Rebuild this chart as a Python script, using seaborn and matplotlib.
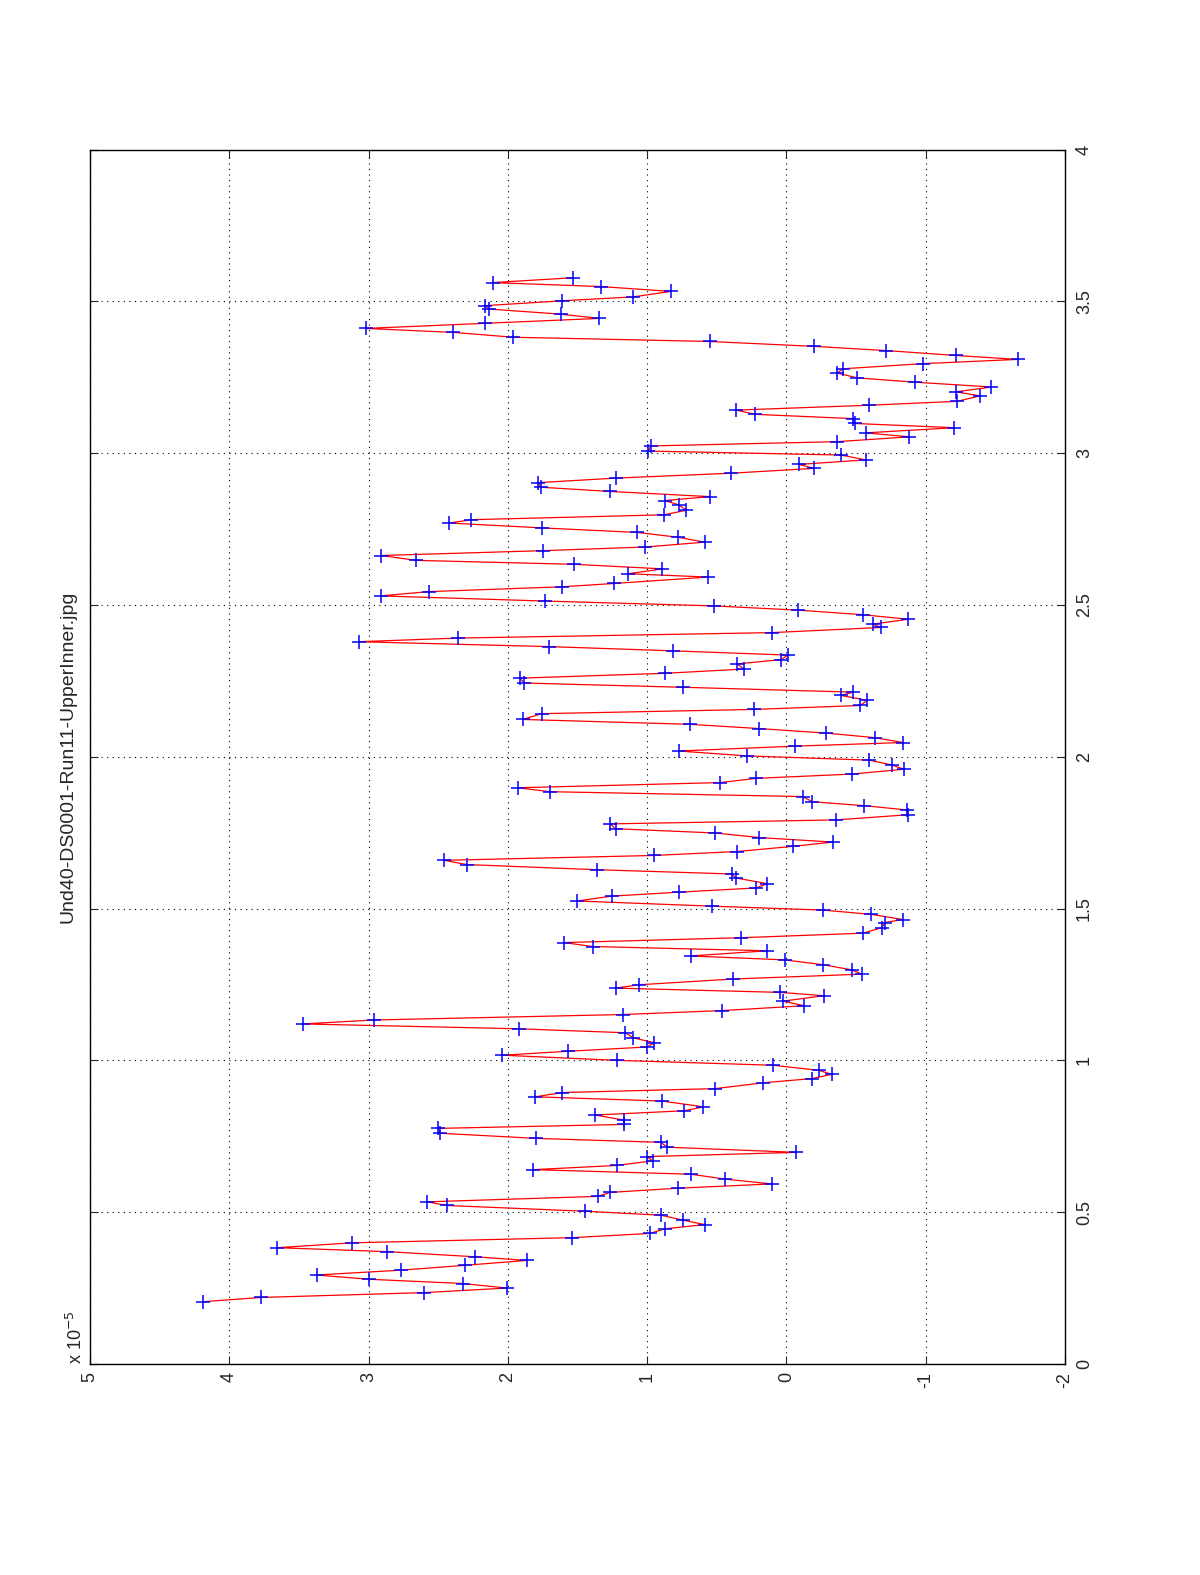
import matplotlib
matplotlib.use('Agg')
import matplotlib.pyplot as plt
import seaborn as sns

title = 'Und40-DS0001-Run11-UpperInner.jpg'
x_pos = [3.578, 3.562, 3.549, 3.533, 3.515, 3.502, 3.486, 3.475, 3.458, 3.444,
         3.428, 3.411, 3.398, 3.382, 3.368, 3.352, 3.338, 3.322, 3.309, 3.295,
         3.278, 3.264, 3.248, 3.234, 3.218, 3.202, 3.189, 3.171, 3.158, 3.142,
         3.128, 3.114, 3.098, 3.084, 3.067, 3.054, 3.038, 3.024, 3.007, 2.994,
         2.978, 2.963, 2.950,
         2.934, 2.918, 2.903, 2.888, 2.874, 2.857, 2.844, 2.830, 2.812, 2.797,
         2.781, 2.770, 2.754, 2.739, 2.723, 2.707, 2.691, 2.679, 2.663, 2.647,
         2.634, 2.619, 2.603, 2.592,
         2.571, 2.560, 2.544, 2.530, 2.513, 2.497, 2.483, 2.468, 2.453, 2.437,
         2.426, 2.409, 2.391, 2.379, 2.363, 2.349, 2.335, 2.320, 2.306, 2.289,
         2.275, 2.259,
         2.243, 2.229, 2.213, 2.202, 2.186, 2.169, 2.156, 2.142, 2.123, 2.107,
         2.093, 2.078, 2.063, 2.047, 2.035, 2.019, 2.003, 1.989, 1.973, 1.959,
         1.943, 1.929, 1.915,
         1.898, 1.885, 1.869, 1.852, 1.839, 1.825, 1.809, 1.792, 1.779, 1.763,
         1.749, 1.734, 1.719, 1.705, 1.688, 1.675, 1.659, 1.645, 1.628, 1.614,
         1.601, 1.582, 1.568,
         1.554, 1.541, 1.525, 1.508, 1.495, 1.481, 1.464, 1.454, 1.437, 1.419,
         1.404, 1.388, 1.375, 1.361, 1.344, 1.331, 1.315, 1.298, 1.284, 1.268,
         1.249, 1.238, 1.224, 1.213,
         1.195, 1.180, 1.164, 1.151, 1.133, 1.120, 1.104, 1.091, 1.074, 1.058,
         1.044, 1.030, 1.017, 1.000, 0.984, 0.967, 0.954, 0.940, 0.926, 0.907,
         0.894, 0.880,
         0.866, 0.847, 0.834, 0.820, 0.803, 0.789, 0.776, 0.760, 0.743, 0.730,
         0.714, 0.697, 0.683, 0.669, 0.654, 0.640, 0.625, 0.609, 0.593, 0.579,
         0.565, 0.552,
         0.534, 0.522, 0.503, 0.490, 0.474, 0.459, 0.445, 0.430, 0.416, 0.399,
         0.383, 0.370, 0.353, 0.341, 0.325, 0.309, 0.293, 0.279, 0.265, 0.250,
         0.235, 0.219, 0.205]
y_val = [1.529, 2.110, 1.333, 0.831, 1.098, 1.608, 2.165, 2.137, 1.620, 1.345,
         2.165, 3.020, 2.392, 1.961, 0.549, -0.196, -0.718, -1.216, -1.659, -0.980,
         -0.404, -0.365, -0.510, -0.922, -1.471, -1.216, -1.392, -1.227, -0.596, 0.361,
         0.224, -0.478, -0.490, -1.204, -0.569, -0.882, -0.365, 0.973, 0.992, -0.392,
         -0.569, -0.090, -0.196,
         0.400, 1.224, 1.784, 1.765, 1.267, 0.549, 0.875, 0.773, 0.718, 0.882,
         2.263, 2.420, 1.757, 1.071, 0.776, 0.588, 1.012, 1.745, 2.910, 2.659,
         1.522, 0.890, 1.137, 0.561,
         1.235, 1.608, 2.569, 2.914, 1.733, 0.522, -0.086, -0.549, -0.875, -0.620,
         -0.678, 0.106, 2.361, 3.071, 1.706, 0.816, -0.012, 0.039, 0.353, 0.306,
         0.871, 1.914,
         1.882, 0.745, -0.478, -0.392, -0.580, -0.529, 0.235, 1.757, 1.894, 0.694,
         0.196, -0.286, -0.635, -0.835, -0.059, 0.773, 0.286, -0.596, -0.757, -0.843,
         -0.471, 0.216, 0.478,
         1.929, 1.698, -0.118, -0.184, -0.557, -0.863, -0.871, -0.353, 1.267, 1.227,
         0.510, 0.196, -0.333, -0.047, 0.353, 0.949, 2.459, 2.294, 1.361, 0.392,
         0.365, 0.137, 0.216,
         0.773, 1.255, 1.502, 0.537, -0.263, -0.608, -0.835, -0.706, -0.686, -0.549,
         0.325, 1.596, 1.392, 0.137, 0.686, 0.012, -0.263, -0.471, -0.541, 0.380,
         1.059, 1.227, 0.047, -0.267,
         0.027, -0.129, 0.459, 1.176, 2.961, 3.471, 1.922, 1.157, 1.098, 0.949,
         1.000, 1.569, 2.039, 1.216, 0.098, -0.235, -0.325, -0.184, 0.169, 0.510,
         1.608, 1.804,
         0.894, 0.596, 0.733, 1.373, 1.165, 1.165, 2.498, 2.490, 1.796, 0.902,
         0.855, -0.071, 1.000, 0.961, 1.216, 1.816, 0.686, 0.443, 0.106, 0.776,
         1.267, 1.353,
         2.580, 2.439, 1.443, 0.902, 0.745, 0.588, 0.875, 0.980, 1.537, 3.118,
         3.655, 2.871, 2.235, 1.863, 2.306, 2.765, 3.373, 3.000, 2.325, 2.008,
         2.600, 3.773, 4.188]
val_ticks = [-2, -1, 0, 1, 2, 3, 4, 5]
pos_ticks = [0, 0.5, 1, 1.5, 2, 2.5, 3, 3.5, 4]
pos_labels = ['0', '0.5', '1', '1.5', '2', '2.5', '3', '3.5', '4']

sns.set_style('white')
plt.rcParams['font.family'] = ['Liberation Sans', 'DejaVu Sans']
plt.rcParams['axes.unicode_minus'] = False

fig = plt.figure(figsize=(12, 15.75), dpi=100)
ax = fig.add_axes([0.075, 0.134, 0.8125, 0.771])

# page is turned 90 degrees: values run right-to-left, positions upward
sns.lineplot(x=y_val, y=x_pos, sort=False, estimator=None, ax=ax,
             color='red', linewidth=0.9, marker='+', markersize=10,
             markeredgecolor='blue', markeredgewidth=1.1)

ax.set_xlim(5, -2)
ax.set_ylim(0, 4)
ax.set_xticks(val_ticks)
ax.set_xticklabels([str(v) for v in val_ticks], rotation=90, fontsize=13)
ax.set_yticks(pos_ticks)
ax.set_yticklabels(pos_labels, rotation=90, fontsize=13, va='center')
ax.tick_params(axis='y', left=True, right=True, labelleft=False, labelright=True,
               direction='in', length=6, pad=8)
ax.tick_params(axis='x', bottom=True, top=True, direction='in', length=6, pad=6)
ax.grid(True, linestyle=(0, (1, 4)), color='black', linewidth=0.8)
ax.set_xlabel('')
ax.set_ylabel('')
for s in ax.spines.values():
    s.set_color('black')
    s.set_linewidth(1.0)

ax.text(-0.023, 0.5, title, transform=ax.transAxes, rotation=90,
        ha='center', va='center', fontsize=14)
ax.text(-0.004, 0.0, r'x 10$^{-5}$', transform=ax.transAxes, rotation=90,
        ha='right', va='bottom', fontsize=13)

fig.savefig('out.png', dpi=100, facecolor='white')
